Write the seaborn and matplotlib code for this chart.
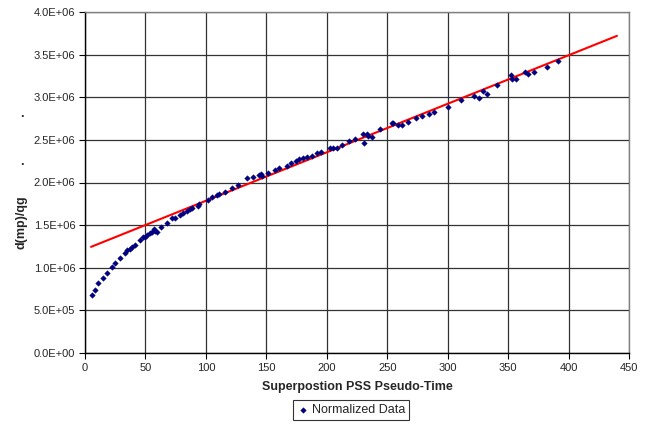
import matplotlib
matplotlib.use("Agg")
import matplotlib.pyplot as plt
import matplotlib.ticker as mticker
import seaborn as sns
import pandas as pd

# Normalized data (superposition time, d(mp)/qg)
time_x = [5.5, 8.3, 11.0, 14.6, 17.9, 22.0, 24.8, 29.0, 33.0, 34.5, 37.2, 38.6, 41.4,
          45.5, 48.3, 49.6, 51.0, 53.8, 55.2, 57.4, 57.9, 59.3, 62.6, 67.6, 71.7,
          74.4, 78.6, 81.3, 84.1, 86.9, 88.3, 93.7, 94.5, 101.5, 104.8, 108.9, 111.1,
          115.8, 121.3, 126.8, 133.7, 139.2, 144.2, 145.3, 146.1, 151.6, 157.2, 160.7,
          166.8, 170.1, 174.5, 177.3, 180.1, 183.9, 187.5, 191.6, 195.0, 202.7, 204.9,
          208.2, 212.3, 218.6, 223.3, 230.2, 230.8, 233.0, 234.4, 237.2, 244.0, 253.7,
          254.5, 259.2, 261.9, 267.4, 273.8, 279.0, 284.6, 288.7, 300.5, 310.8, 322.0,
          325.9, 329.0, 332.3, 341.1, 352.1, 353.5, 356.5, 364.0, 366.7, 371.7, 381.9,
          391.5]
dmp_qg = [0.68e6, 0.74e6, 0.82e6, 0.876e6, 0.935e6, 1.005e6, 1.06e6, 1.12e6, 1.17e6,
          1.21e6, 1.216e6, 1.24e6, 1.267e6, 1.326e6, 1.357e6, 1.364e6, 1.384e6, 1.404e6,
          1.423e6, 1.451e6, 1.43e6, 1.416e6, 1.474e6, 1.528e6, 1.58e6, 1.587e6, 1.62e6,
          1.64e6, 1.66e6, 1.686e6, 1.70e6, 1.724e6, 1.745e6, 1.80e6, 1.826e6, 1.853e6,
          1.862e6, 1.885e6, 1.94e6, 1.97e6, 2.05e6, 2.07e6, 2.088e6, 2.10e6, 2.076e6,
          2.108e6, 2.147e6, 2.166e6, 2.193e6, 2.225e6, 2.256e6, 2.27e6, 2.284e6, 2.296e6,
          2.31e6, 2.342e6, 2.361e6, 2.405e6, 2.408e6, 2.408e6, 2.44e6, 2.483e6, 2.507e6,
          2.569e6, 2.46e6, 2.569e6, 2.545e6, 2.53e6, 2.628e6, 2.694e6, 2.70e6, 2.675e6,
          2.675e6, 2.713e6, 2.753e6, 2.78e6, 2.804e6, 2.823e6, 2.89e6, 2.968e6, 3.018e6,
          2.988e6, 3.073e6, 3.038e6, 3.144e6, 3.26e6, 3.21e6, 3.21e6, 3.30e6, 3.27e6,
          3.30e6, 3.358e6, 3.43e6]

# Straight-line fit
trend_x = [5, 440]
trend_y = [1.245e6, 3.72e6]

x_ticks = [0, 50, 100, 150, 200, 250, 300, 350, 400, 450]
y_ticks = [0, 0.5e6, 1.0e6, 1.5e6, 2.0e6, 2.5e6, 3.0e6, 3.5e6, 4.0e6]

sns.set_theme(style="white")
plt.rcParams['font.family'] = ['Liberation Sans', 'DejaVu Sans']

fig = plt.figure(figsize=(6.56, 4.25), dpi=100)
ax = fig.add_axes([85/656, 1 - 353/425, (629 - 85)/656, (353 - 12)/425])

df = pd.DataFrame({"x": time_x, "y": dmp_qg})
tdf = pd.DataFrame({"x": trend_x, "y": trend_y})

sns.lineplot(data=tdf, x="x", y="y", ax=ax, color="#ff0000", linewidth=1.5, zorder=3,
             legend=False)
sns.scatterplot(data=df, x="x", y="y", ax=ax, marker="D", s=8, color="#000080",
                edgecolor="#000080", linewidth=0.3, zorder=4, label="Normalized Data")

ax.set_xlim(0, 450)
ax.set_ylim(0, 4.0e6)
ax.set_xticks(x_ticks)
ax.set_yticks(y_ticks)
ax.yaxis.set_major_formatter(mticker.FuncFormatter(lambda v, p: "%.1E" % v))
ax.grid(True, color="#333333", linewidth=0.9)
ax.set_axisbelow(True)
for s in ["top", "right"]:
    ax.spines[s].set_color("#808080")
    ax.spines[s].set_linewidth(1.0)
for s in ["left", "bottom"]:
    ax.spines[s].set_color("black")
    ax.spines[s].set_linewidth(1.0)
ax.tick_params(axis="both", which="major", direction="out", length=4, width=0.8,
               color="black", labelsize=8, pad=3, left=True, bottom=True)
ax.set_xlabel("Superpostion PSS Pseudo-Time", fontsize=9, fontweight="bold", labelpad=6)
ax.set_ylabel("d(mp)/qg", fontsize=9, fontweight="bold")
ax.yaxis.set_label_coords((27 - 85) / 544, (353 - 222) / 341)

leg = ax.legend(loc="center", bbox_to_anchor=((351 - 85) / 544, (353 - 410) / 341),
                frameon=True, fontsize=9, handletextpad=0.2, borderpad=0.3,
                markerscale=1.0, handlelength=1.0, fancybox=False)
leg.get_frame().set_edgecolor("black")
leg.get_frame().set_linewidth(0.8)

fig.text(21.7/656, 1 - 117/425, ".", fontsize=9, fontweight="bold", ha="center",
         va="baseline")
fig.text(21.7/656, 1 - 165/425, ".", fontsize=9, fontweight="bold", ha="center",
         va="baseline")

fig.savefig("out.png", dpi=100)
